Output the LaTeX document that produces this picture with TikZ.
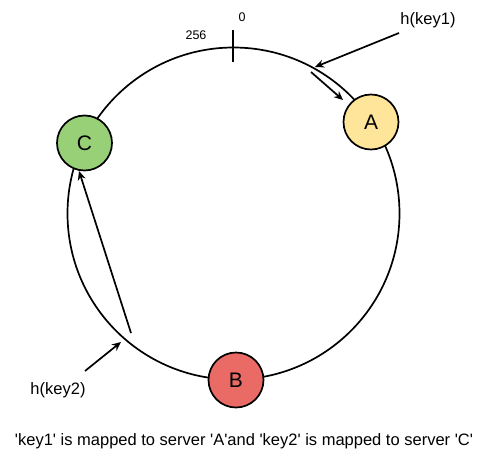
\documentclass[tikz,border=0pt]{standalone}
\usepackage{fontspec}
\setmainfont{Liberation Sans}[Ligatures=TeXOff]
\usetikzlibrary{arrows.meta}
\begin{document}
\begin{tikzpicture}[x=1pt,y=-1pt,
  server/.style={circle,draw=black,line width=1.7pt,minimum size=55pt,inner sep=0pt,font=\fontsize{21}{24}\selectfont},
  conn/.style={line width=1.7pt,-{Stealth[length=9pt,width=8pt]}},
  lbl/.style={inner sep=0pt,font=\fontsize{16.5}{19}\selectfont},
  small/.style={inner sep=0pt,font=\fontsize{12.5}{14}\selectfont}]
\useasboundingbox (0,0) rectangle (487,466);
\node[circle,draw=black,line width=1.7pt,minimum size=332pt,inner sep=0pt] (ring) at (233.5,213.5) {};
\draw[line width=1.7pt] (233,30) coordinate (t1) -- (233,62) coordinate (t2);
\node[small] (n256) at (196,35) {256};
\node[small] (n0) at (242,17) {0};
\node[server,fill={rgb,255:red,255;green,229;blue,153}] (A) at (371,122) {A};
\node[server,fill={rgb,255:red,234;green,107;blue,102}] (B) at (236,380) {B};
\node[server,fill={rgb,255:red,151;green,208;blue,119}] (C) at (84.5,143) {C};
\node[lbl] (hk1) at (428,20) {h(key1)};
\node[lbl] (hk2) at (58,390) {h(key2)};
\node[lbl] (cap) at (244,441) {'key1' is mapped to server 'A'and 'key2' is mapped to server 'C'};
\coordinate (k1s) at (399,33);
\coordinate (k1e) at (315,67);
\coordinate (a1s) at (311,72);
\coordinate (a1e) at (343,100);
\coordinate (k2s) at (85,371);
\coordinate (k2e) at (121,342);
\coordinate (c1s) at (131,333);
\coordinate (c1e) at (79,171);
\draw[conn] (k1s) -- (k1e);
\draw[conn] (a1s) -- (a1e);
\draw[conn] (k2s) -- (k2e);
\draw[conn] (c1s) -- (c1e);
\end{tikzpicture}
\end{document}
